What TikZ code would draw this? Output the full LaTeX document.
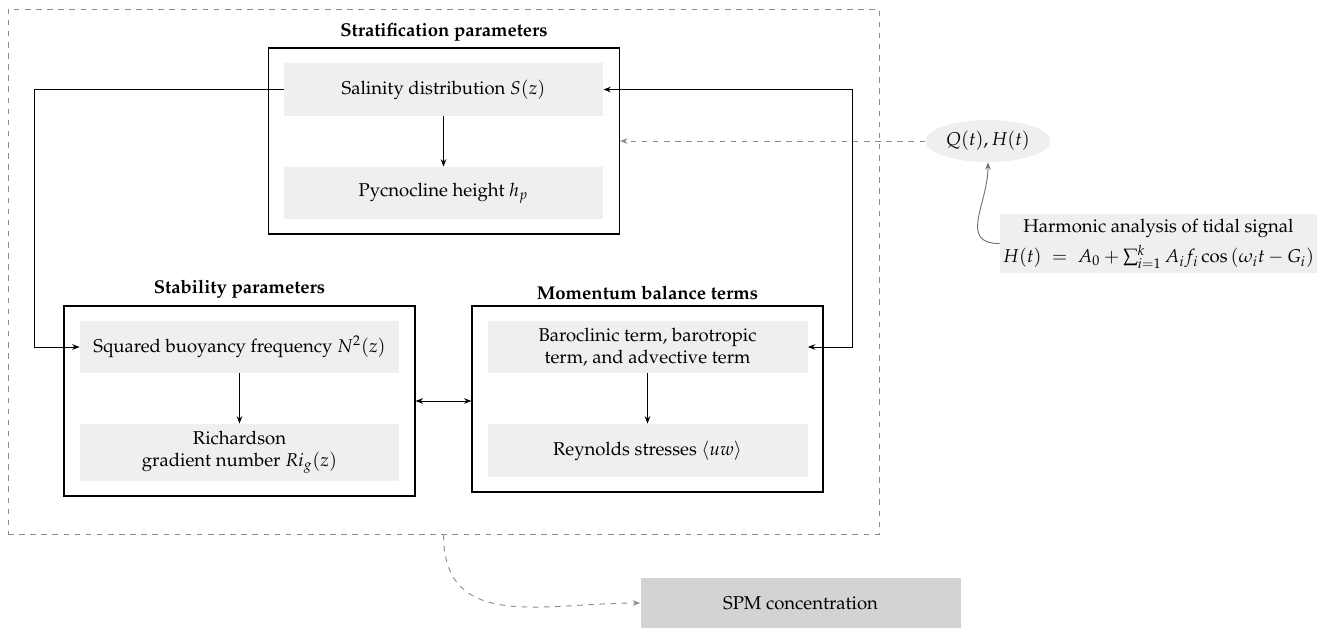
\documentclass[tikz,border=0pt]{standalone}
\usepackage[T1]{fontenc}
\usepackage{mathpazo}
\usetikzlibrary{arrows.meta,shapes.geometric}
\definecolor{cellGrey}{HTML}{EFEFEF}
\definecolor{spmGrey}{HTML}{D3D3D3}
\definecolor{dashGrey}{HTML}{8C8C8C}
\definecolor{curveGrey}{HTML}{707070}
\newlength{\px}
\setlength{\px}{0.54pt}

\begin{document}
\begin{tikzpicture}[
    x=\px, y=-\px,
    group/.style={draw=black,line width=0.6pt,minimum width=351\px,inner sep=0pt},
    cell/.style={fill=cellGrey,minimum width=319\px,minimum height=52\px,align=center,inner sep=0pt},
    title/.style={font=\bfseries},
    arr/.style={-{Stealth[length=4pt,width=3pt]},line width=0.5pt},
    twoway/.style={{Stealth[length=4pt,width=3pt]}-{Stealth[length=4pt,width=3pt]},line width=0.5pt},
    feed/.style={dashed,draw=dashGrey,-{Stealth[length=4pt,width=3pt]},line width=0.5pt}
  ]
  \useasboundingbox (0,0) rectangle (1317,627);

  % the whole model sits inside the dashed frame
  \node[draw=dashGrey,dashed,line width=0.5pt,minimum width=871\px,minimum height=525\px,inner sep=0pt] (model) at (443.5,271.5) {};

  \node[group,minimum height=186\px] (strat) at (444,141) {};
  \node[title] (stratT) at (444,32) {Stratification parameters};
  \node[cell] (salinity) at (443.5,89.5) {Salinity distribution $S(z)$};
  \node[cell] (pycno)    at (443.5,193)  {Pycnocline height $h_p$};

  \node[group,minimum height=190\px] (stab) at (239.5,401) {};
  \node[title] (stabT) at (239.5,289) {Stability parameters};
  \node[cell] (buoy) at (239.5,347) {Squared buoyancy frequency $N^2(z)$};
  \node[cell,minimum height=57\px] (rich) at (239.5,452.5) {Richardson\\gradient number $Ri_g(z)$};

  \node[group,minimum height=186\px] (mom) at (647.5,399) {};
  \node[title] (momT) at (647.5,293) {Momentum balance terms};
  \node[cell,minimum width=320\px] (baro) at (647.5,347) {Baroclinic term, barotropic\\term, and advective term};
  \node[cell,minimum width=320\px,minimum height=53\px] (reyn) at (647.5,450.5) {Reynolds stresses $\langle uw\rangle$};

  \node[ellipse,fill=cellGrey,minimum width=125\px,minimum height=42\px,inner sep=0pt] (forcing) at (988,141) {$Q(t), H(t)$};
  \node[fill=cellGrey,minimum width=317\px,minimum height=59\px,align=center,inner sep=0pt] (tidal) at (1158.5,243.5)
    {Harmonic analysis of tidal signal\\[3pt]$H(t) \;=\; A_0 + \sum_{i=1}^{k} A_i f_i \cos\left(\omega_i t - G_i\right)$};
  \node[fill=spmGrey,minimum width=320\px,minimum height=50\px,inner sep=0pt] (spm) at (800.5,603) {SPM concentration};

  \draw[arr] (salinity) -- (pycno);
  \draw[arr] (buoy) -- (rich);
  \draw[arr] (baro) -- (reyn);

  \draw[arr]    (salinity.west) -- ++(-249,0) |- (buoy.west);
  \draw[twoway] (salinity.east) -- ++(249,0) |- (baro.east);
  \draw[twoway] (stab.east) -- (stab.east -| mom.west);

  \draw[feed] (forcing.west) -- (strat.east);
  \draw[arr,draw=curveGrey] (tidal.west) to[out=180,in=-90,looseness=1.3] (forcing.south);
  \draw[feed] (model.south) to[out=-90,in=180,looseness=1.2] (spm.west);
\end{tikzpicture}
\end{document}
